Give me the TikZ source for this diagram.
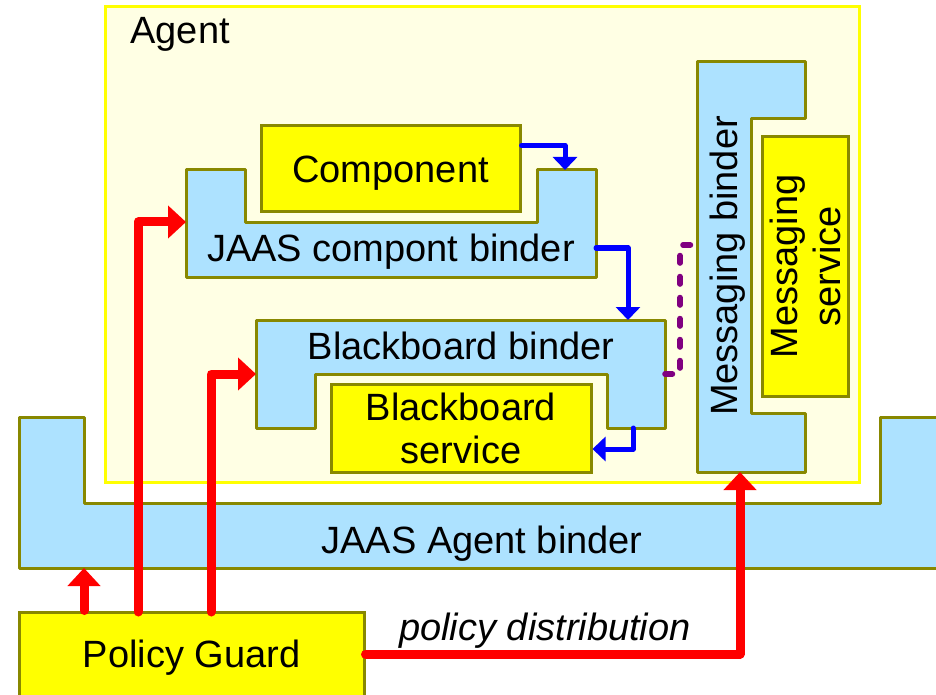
\documentclass[tikz,border=0pt]{standalone}
\usepackage{fontspec}
\setmainfont{Liberation Sans}
\usetikzlibrary{arrows.meta}
\definecolor{agentbg}{RGB}{255,255,228}
\definecolor{binderblue}{RGB}{173,226,255}
\definecolor{rimolive}{RGB}{136,136,0}
\definecolor{svcyellow}{RGB}{255,255,0}
\definecolor{flowred}{RGB}{255,0,0}
\definecolor{flowblue}{RGB}{0,0,255}
\definecolor{linkpurple}{RGB}{128,0,128}
\begin{document}
\begin{tikzpicture}[x=0.5pt,y=-0.5pt,
  every node/.style={font=\fontsize{19}{21.5}\selectfont, inner sep=0pt, text depth=0pt},
  agentbox/.style={draw=svcyellow, fill=agentbg, line width=1.5pt},
  binder/.style={draw=rimolive, fill=binderblue, line width=1.5pt, line join=round},
  svcbox/.style={draw=rimolive, fill=svcyellow, line width=1.5pt, align=center},
  redflow/.style={draw=flowred, line width=4.5pt, line cap=round, line join=round,
    -{Triangle[width=16pt,length=9pt]}},
  blueflow/.style={draw=flowblue, line width=2.5pt, line cap=round, line join=round,
    -{Triangle[width=12pt,length=6.5pt]}},
  msglink/.style={draw=linkpurple, line width=2.8pt, line cap=round,
    dash pattern=on 3.7pt off 6.8pt}]
\path[use as bounding box, clip] (0,0) rectangle (936,695);

% agent container
\node[agentbox, minimum width=377pt, minimum height=237.5pt] (agent) at (482,244.5) {};
\node[anchor=base west] (agentlbl) at (130,44) {Agent};

% JAAS component binder (U shape holding the component)
\draw[binder] (186,170) -- (245,170) -- (245,223) -- (537,223) -- (537,170)
  -- (596,170) -- (596,277) -- (186,277) -- cycle;
\node (jcb) at (391,248) {JAAS compont binder};
\coordinate (jcbN) at (565,170);
\coordinate (jcbE) at (596,248);
\coordinate (jcbW) at (186,222);

% component
\node[svcbox, minimum width=129.5pt, minimum height=43pt] (comp) at (390.5,169) {Component};

% blackboard binder (inverted U over the blackboard service)
\draw[binder] (256,320) -- (665,320) -- (665,428) -- (607,428) -- (607,374)
  -- (315,374) -- (315,428) -- (256,428) -- cycle;
\node (bb) at (461,346) {Blackboard binder};
\coordinate (bbN) at (628,320);
\coordinate (bbE) at (665,374);
\coordinate (bbW) at (256,374);
\coordinate (bbS) at (633,428);

% blackboard service
\node[svcbox, minimum width=130pt, minimum height=44pt] (bbsvc) at (461,428)
  {Blackboard\\service};

% messaging binder
\draw[binder] (697,62) -- (805,62) -- (805,119) -- (751,119) -- (751,413)
  -- (805,413) -- (805,472) -- (697,472) -- cycle;
\node[rotate=90] (mb) at (724,266) {Messaging binder};
\coordinate (mbW) at (697,245);
\coordinate (mbS) at (740,472);

% messaging service
\node[svcbox, minimum width=129.5pt, minimum height=43pt, rotate=90] (msvc) at (805,266.5)
  {Messaging\\service};

% JAAS agent binder
\draw[binder] (19,417) -- (84,417) -- (84,503) -- (880,503) -- (880,417)
  -- (950,417) -- (950,568) -- (19,568) -- cycle;
\node (jab) at (482,540) {JAAS Agent binder};
\coordinate (jabS) at (84,568);

% policy guard
\node[svcbox, minimum width=172.5pt, minimum height=44pt] (pg) at (191.5,656) {};
\node (pglbl) at (191.5,654) {Policy Guard};

% binding flows
\draw[blueflow] ([yshift=-10.5pt]comp.north east) -| (jcbN);
\draw[blueflow] (jcbE) -| (bbN);
\draw[blueflow] (bbS) |- ([yshift=-10.5pt]bbsvc.east);
\draw[msglink] (bbE) -- ++(15,0) |- (mbW);

% policy flows
\draw[redflow] (pg.north -| jabS) -- (jabS);
\draw[redflow] (138,612) |- (jcbW);
\draw[redflow] (211,612) |- (bbW);
\draw[redflow] ([yshift=1pt]pg.east) -| (mbS);
\node[font=\fontsize{19}{21.5}\selectfont\itshape] (pdist) at (545,627) {policy distribution};
\end{tikzpicture}
\end{document}
